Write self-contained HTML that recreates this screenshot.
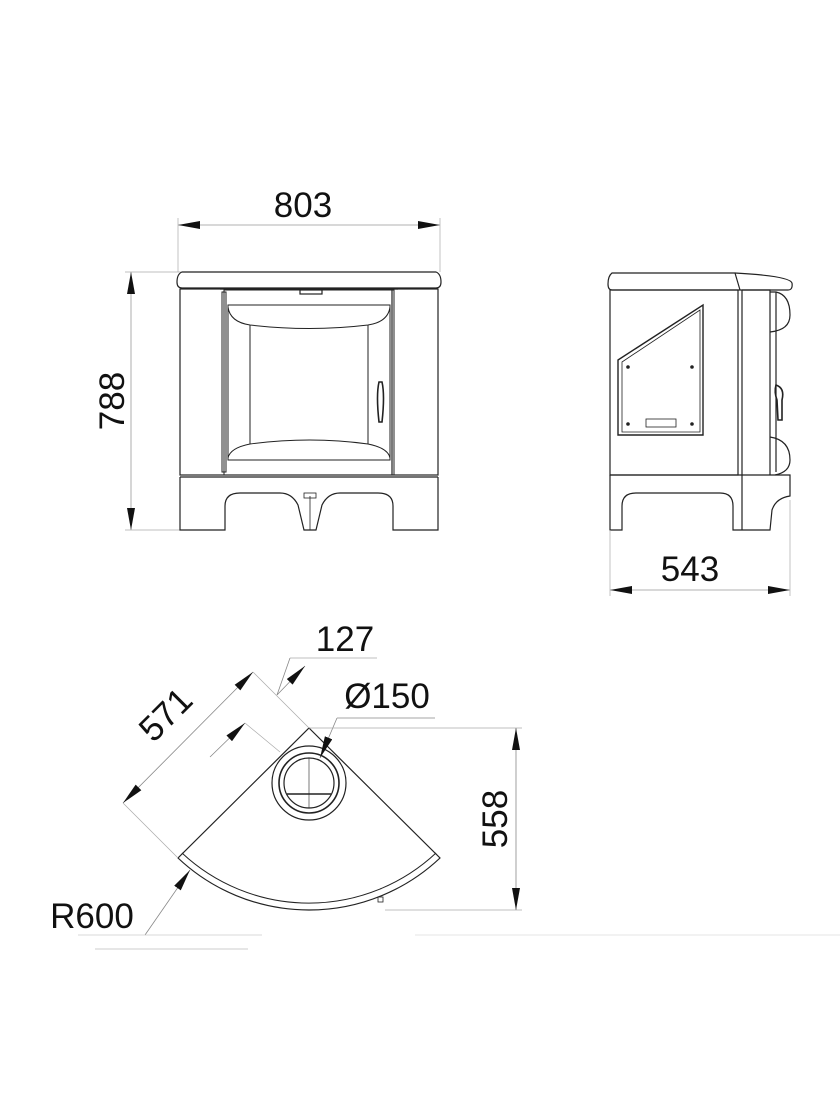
<!DOCTYPE html>
<html><head><meta charset="utf-8"><style>
html,body{margin:0;padding:0;background:#fff;}
svg{display:block;}
text{font-family:"Liberation Sans",sans-serif;fill:#111;}
</style></head><body>
<svg width="840" height="1120" viewBox="0 0 840 1120" xmlns="http://www.w3.org/2000/svg">
<defs>
<marker id="b" viewBox="0 0 22 8" refX="22" refY="4" markerWidth="22" markerHeight="8" orient="auto-start-reverse" markerUnits="userSpaceOnUse"><path d="M0 0L22 4L0 8z" fill="#111"/></marker>
</defs>
<g fill="none" stroke="#222" stroke-width="1.2">
<!-- FRONT VIEW -->
<line x1="178" y1="225" x2="440" y2="225" stroke="#999" stroke-width="0.8" marker-start="url(#b)" marker-end="url(#b)"/>
<line x1="178" y1="218" x2="178" y2="272" stroke="#aaa" stroke-width="0.7"/>
<line x1="440" y1="218" x2="440" y2="272" stroke="#aaa" stroke-width="0.7"/>
<line x1="131" y1="272" x2="131" y2="530" stroke="#999" stroke-width="0.8" marker-start="url(#b)" marker-end="url(#b)"/>
<line x1="125" y1="272" x2="200" y2="272" stroke="#aaa" stroke-width="0.7"/>
<line x1="125" y1="530" x2="180" y2="530" stroke="#aaa" stroke-width="0.7"/>
<path d="M182 272 L436 272 Q441 274 441 282 Q441 288 436 288 L182 288 Q177 288 177 282 Q177 274 182 272Z"/>
<line x1="220" y1="289" x2="398" y2="289"/>
<rect x="300" y="290" width="22" height="4"/>
<rect x="180" y="289" width="258" height="186"/>
<line x1="180" y1="477" x2="438" y2="477"/>
<rect x="222" y="292" width="4" height="180" stroke-width="1"/>
<rect x="224" y="290" width="170" height="185" stroke-width="1"/>
<line x1="392" y1="290" x2="392" y2="475"/>
<path d="M228 305 L390 305 L390 460 L228 460Z" stroke-width="1"/>
<path d="M228 307 Q230 322 250 325 Q310 332 368 325 Q388 322 390 307" stroke-width="1"/>
<path d="M228 458 Q230 448 250 444 Q310 436 368 444 Q388 448 390 458" stroke-width="1"/>
<line x1="250" y1="325" x2="250" y2="444" stroke-width="1"/>
<line x1="368" y1="325" x2="368" y2="444" stroke-width="1"/>
<path d="M379 382 Q376 395 379 422 L382 422 Q385 395 382 382Z" stroke-width="1.6"/>
<path d="M180 477 L180 530 L225 530 L225 506 Q225 493 240 493 L280 493 Q292 493 298 505 L304 530 L316 530 L322 505 Q328 493 340 493 L378 493 Q393 493 393 506 L393 530 L438 530 L438 477"/>
<line x1="310" y1="496" x2="310" y2="530" stroke-width="0.8"/>
<rect x="304" y="493" width="12" height="5" stroke-width="0.8"/>
<!-- SIDE VIEW -->
<path d="M612 273 L735 273 Q790 276 792 283 Q793 290 788 290 L612 290 Q608 290 608 284 Q608 276 612 273Z"/>
<line x1="735" y1="273" x2="740" y2="290"/>
<rect x="610" y="290" width="128" height="185"/>
<line x1="742" y1="290" x2="742" y2="530"/>
<path d="M742 290 L770 290 L770 475"/>
<path d="M770 292 L776 292 Q790 295 790 315 Q790 330 770 332"/>
<path d="M770 437 Q790 440 790 460 Q790 472 775 475"/>
<line x1="776" y1="292" x2="776" y2="472"/>
<path d="M610 475 L790 475 L790 496 Q776 498 772 510 L770 530 L742 530"/>
<path d="M610 475 L610 530 L622 530 L622 506 Q622 493 636 493 L720 493 Q733 493 733 506 L733 530 L742 530"/>
<path d="M618 360 L703 305 L703 435 L618 435Z" stroke-width="1.4"/>
<path d="M622 362 L700 310 L700 432 L622 432Z" stroke-width="0.8"/>
<rect x="646" y="419" width="30" height="8" stroke-width="0.8"/>
<circle cx="628" cy="367" r="1.2" fill="#222"/><circle cx="692" cy="367" r="1.2" fill="#222"/>
<circle cx="628" cy="424" r="1.2" fill="#222"/><circle cx="692" cy="424" r="1.2" fill="#222"/>
<path d="M776 385 Q785 388 782 400 L782 420 L778 420 L777 400 Q774 392 776 385Z" stroke-width="1.6"/>
<line x1="610" y1="590" x2="790" y2="590" stroke="#999" stroke-width="0.8" marker-start="url(#b)" marker-end="url(#b)"/>
<line x1="610" y1="530" x2="610" y2="596" stroke="#aaa" stroke-width="0.7"/>
<line x1="790" y1="500" x2="790" y2="596" stroke="#aaa" stroke-width="0.7"/>
<!-- PLAN VIEW -->
<path d="M309 728 L440 858 A191 191 0 0 1 178 858 Z"/>
<path d="M182 853 A186 186 0 0 0 436 853" stroke-width="1"/>
<circle cx="309" cy="783" r="37"/>
<circle cx="309" cy="783" r="30" stroke-width="1.6"/>
<circle cx="309" cy="783" r="25"/>
<line x1="309" y1="758" x2="309" y2="808" stroke-width="0.6"/>
<line x1="287" y1="794" x2="331" y2="794" stroke-width="1.4"/>
<rect x="378" y="897" width="5" height="5" stroke-width="0.8"/>
<!-- 571 -->
<line x1="123" y1="803" x2="253" y2="672" stroke="#888" stroke-width="0.8" marker-start="url(#b)" marker-end="url(#b)"/>
<line x1="123" y1="803" x2="178" y2="858" stroke="#aaa" stroke-width="0.7"/>
<line x1="253" y1="672" x2="309" y2="728" stroke="#aaa" stroke-width="0.7"/>
<!-- 127 -->
<line x1="377" y1="658" x2="290" y2="658" stroke="#aaa" stroke-width="0.7"/>
<line x1="290" y1="658" x2="277" y2="695" stroke="#888" stroke-width="0.8"/>
<line x1="305" y1="665" x2="277" y2="694" stroke="#888" stroke-width="0.8" marker-end="url(#b)" transform="rotate(180 291 680)"/>
<line x1="210" y1="757" x2="245" y2="723" stroke="#888" stroke-width="0.8" marker-end="url(#b)"/>
<line x1="245" y1="723" x2="280" y2="752" stroke="#aaa" stroke-width="0.7"/>
<!-- Ø150 -->
<line x1="435" y1="718" x2="337" y2="718" stroke="#888" stroke-width="0.8"/>
<line x1="337" y1="718" x2="320" y2="758" stroke="#888" stroke-width="0.8" marker-end="url(#b)"/>
<!-- 558 -->
<line x1="309" y1="728" x2="522" y2="728" stroke="#aaa" stroke-width="0.7"/>
<line x1="385" y1="910" x2="522" y2="910" stroke="#aaa" stroke-width="0.7"/>
<line x1="516" y1="728" x2="516" y2="910" stroke="#888" stroke-width="0.8" marker-start="url(#b)" marker-end="url(#b)"/>
<!-- R600 -->
<line x1="145" y1="935" x2="190" y2="870" stroke="#888" stroke-width="0.8" marker-end="url(#b)"/>
<line x1="78" y1="935" x2="262" y2="935" stroke="#ccc" stroke-width="0.8"/>
<line x1="95" y1="949" x2="248" y2="949" stroke="#bbb" stroke-width="0.8"/>
<line x1="415" y1="935" x2="840" y2="935" stroke="#ddd" stroke-width="0.8"/>
</g>
<g font-size="35">
<text x="303" y="217" text-anchor="middle">803</text>
<text transform="translate(124 401) rotate(-90)" text-anchor="middle">788</text>
<text x="690" y="581" text-anchor="middle">543</text>
<text x="345" y="651" text-anchor="middle">127</text>
<text x="387" y="708" text-anchor="middle">Ø150</text>
<text transform="translate(174 723) rotate(-45)" text-anchor="middle">571</text>
<text transform="translate(507 819) rotate(-90)" text-anchor="middle">558</text>
<text x="92" y="928" text-anchor="middle">R600</text>
</g>
</svg>
</body></html>
